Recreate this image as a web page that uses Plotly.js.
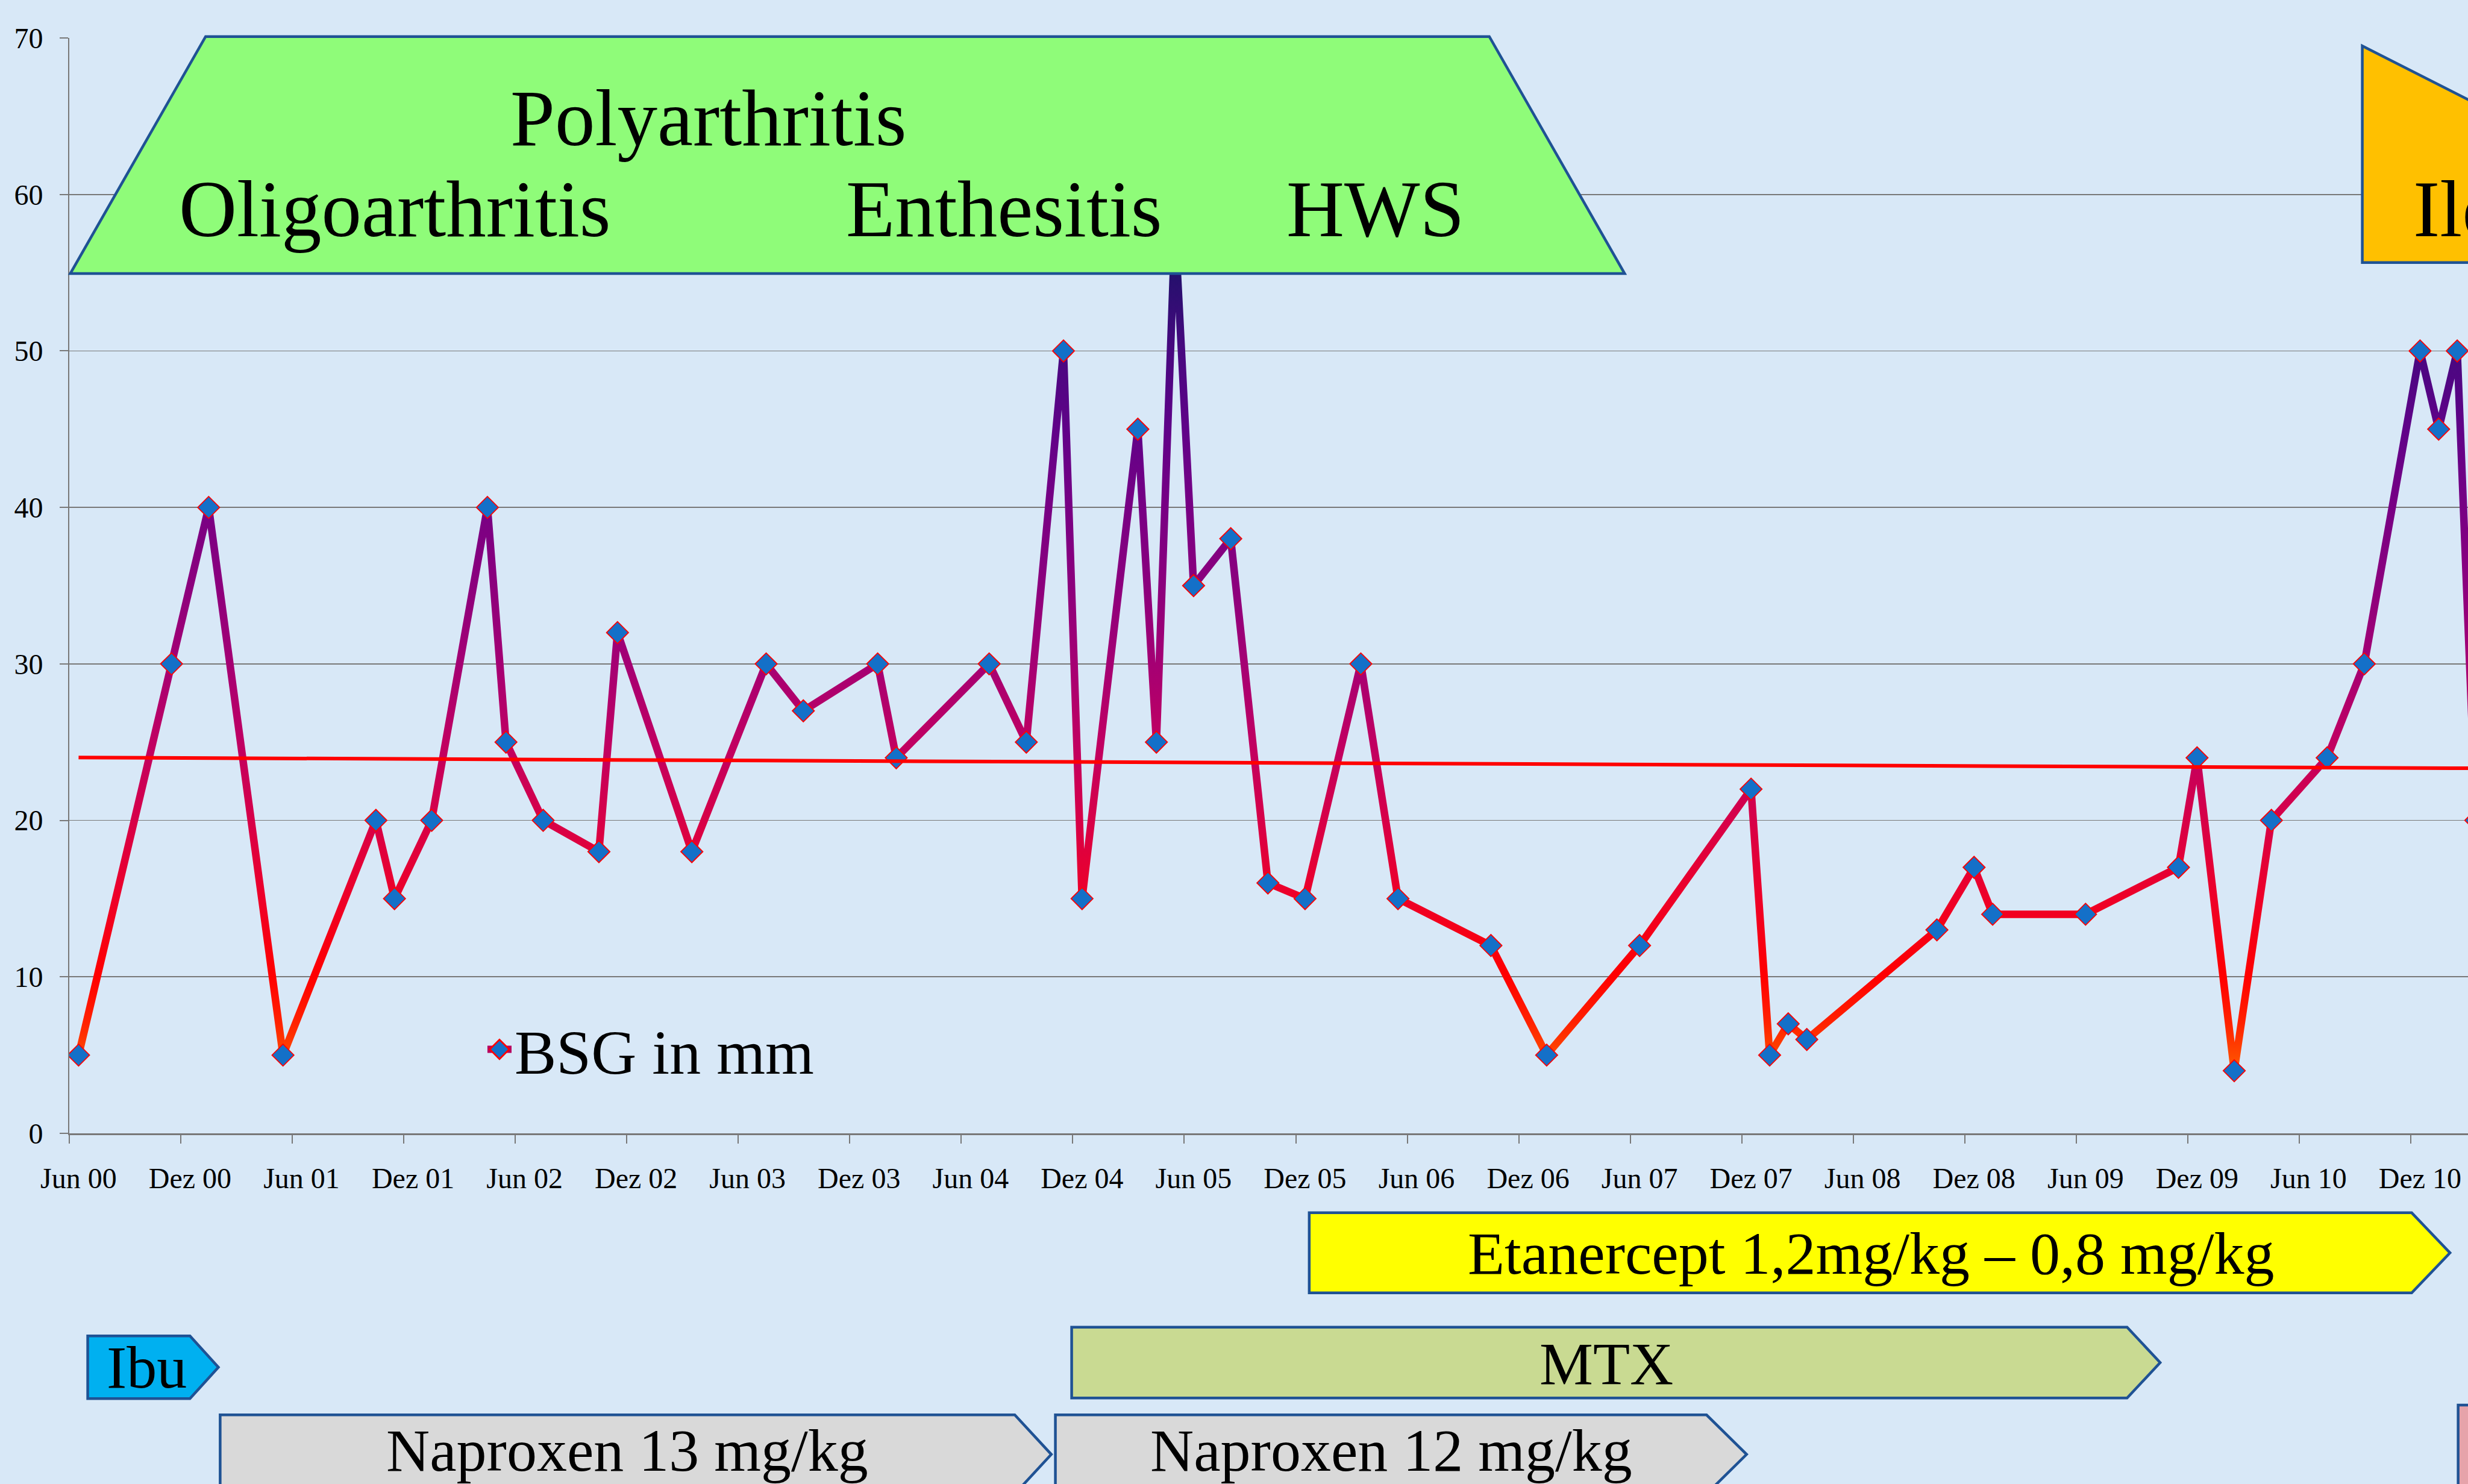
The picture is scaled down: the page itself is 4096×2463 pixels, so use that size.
<!DOCTYPE html>
<html>
<head>
<meta charset="utf-8">
<script src="https://cdn.plot.ly/plotly-3.0.1.min.js"></script>
<style>
html,body{margin:0;padding:0;background:#d8e8f7;overflow:hidden;}
#chart{width:4096px;height:2463px;}
</style>
</head>
<body>
<div id="chart"></div>
<script>
// ---------- data ----------
const dates = ['2000-06','2000-11','2001-01','2001-05','2001-10','2001-11','2002-01','2002-04','2002-05','2002-07',
  '2002-10','2002-11','2003-03','2003-07','2003-09','2004-01','2004-02','2004-07','2004-09','2004-11',
  '2004-12','2005-03','2005-04','2005-05','2005-06','2005-08','2005-10','2005-12','2006-03','2006-05',
  '2006-10','2007-01','2007-06','2007-12','2008-01','2008-02','2008-03','2008-10','2008-12','2009-01',
  '2009-06','2009-11','2009-12','2010-02','2010-04','2010-07','2010-09','2010-12','2011-01','2011-02','2011-03'];
const bsg = [5,30,40,5,20,15,20,40,25,20,
  18,32,18,30,27,30,24,30,25,50,
  15,45,25,58,35,38,16,15,30,15,
  12,5,12,22,5,7,6,13,17,14,
  14,17,24,4,20,24,30,50,45,50,20];
const seriesName = 'BSG in mm';
const trendDates = ['2000-06','2011-03'];
const trendValues = [24.02, 23.33];
const tickDates = ['2000-06','2000-12','2001-06','2001-12','2002-06','2002-12','2003-06','2003-12','2004-06','2004-12','2005-06',
  '2005-12','2006-06','2006-12','2007-06','2007-12','2008-06','2008-12','2009-06','2009-12','2010-06','2010-12'];
const tickLabels = ['Jun 00','Dez 00','Jun 01','Dez 01','Jun 02','Dez 02','Jun 03','Dez 03','Jun 04','Dez 04','Jun 05',
  'Dez 05','Jun 06','Dez 06','Jun 07','Dez 07','Jun 08','Dez 08','Jun 09','Dez 09','Jun 10','Dez 10'];
const yTicks = [0,10,20,30,40,50,60,70];

const phaseLabels = ['Polyarthritis','Oligoarthritis','Enthesitis','HWS','Ileitis'];
const therapyLabels = ['Etanercept 1,2mg/kg – 0,8 mg/kg','MTX','Ibu','Naproxen 13 mg/kg','Naproxen 12 mg/kg'];

// ---------- helpers ----------
function monthIndex(s){ const p = s.split('-').map(Number); return (p[0]-2000)*12 + (p[1]-6); }
const xs = dates.map(monthIndex);
const tickX = tickDates.map(monthIndex);
const boundaryX = tickX.map(v => v - 0.5).concat([tickX[tickX.length-1] + 5.5]);

const W = 4096, H = 2463, S = 0.964;
const M = {l:115, r:0, t:63, b:582};
const PW = W - M.l - M.r, PH = H - M.t - M.b;
function px(x){ return (x*S - M.l)/PW; }
function py(y){ return 1 - (y*S - M.t)/PH; }

const FONT = 'Liberation Serif, Times New Roman, serif';
const BORDER = '#1f5294';

function poly(pts, fill){
  return {type:'path', xref:'paper', yref:'paper', layer:'above',
    path: 'M' + pts.map(p => px(p[0]).toFixed(5) + ',' + py(p[1]).toFixed(5)).join('L') + 'Z',
    fillcolor: fill, line:{color: BORDER, width: 4.5}};
}
function label(text, x, y, size, anchor){
  return {xref:'paper', yref:'paper', x: px(x), y: py(y), text: text, showarrow:false,
    xanchor: anchor || 'center', yanchor:'middle', font:{family: FONT, size: size, color:'#000'}};
}

// ---------- decorations (positions in reference pixels) ----------
const shapes = [
  poly([[121,471],[354,63],[2564,63],[2797,471]], '#8ffc79'),
  poly([[4067,79],[4400,248],[4400,452],[4067,452]], '#ffc000'),
  poly([[2254,2088],[4152,2088],[4218,2157],[4152,2226],[2254,2226]], '#ffff00'),
  poly([[1845,2285],[3662,2285],[3719,2346],[3662,2407],[1845,2407]], '#c9da92'),
  poly([[151,2300],[327,2300],[376,2354],[327,2408],[151,2408]], '#00b0f0'),
  poly([[379,2436],[1747,2436],[1810,2504],[1747,2572],[379,2572]], '#d9d9d9'),
  poly([[1817,2436],[2938,2436],[3007,2504],[2938,2572],[1817,2572]], '#d9d9d9'),
  poly([[4232,2419],[4400,2419],[4400,2700],[4232,2700]], '#e6a3aa')
];
const annotations = [
  label(phaseLabels[0], 1220, 203, 133),
  label(phaseLabels[1], 680, 360, 133),
  label(phaseLabels[2], 1729, 360, 133),
  label(phaseLabels[3], 2368, 360, 133),
  label(phaseLabels[4], 4152, 360, 133, 'left'),
  label(therapyLabels[0], 3221, 2158, 100),
  label(therapyLabels[1], 2766, 2348, 100),
  label(therapyLabels[2], 253, 2354, 100),
  label(therapyLabels[3], 1080, 2497, 100),
  label(therapyLabels[4], 2395, 2497, 100)
];

// ---------- traces ----------
const bsgTrace = {
  type:'scatter', mode:'lines+markers', name: seriesName,
  x: xs, y: bsg,
  line:{color:'#b8005f', width:12.5},
  marker:{symbol:'diamond', size:28, color:'#1470c8', line:{color:'#ff0000', width:1.8}},
  hoverinfo:'skip'
};
const trendTrace = {
  type:'scatter', mode:'lines', showlegend:false,
  x: trendDates.map(monthIndex), y: trendValues,
  line:{color:'#ff0000', width:6}, hoverinfo:'skip'
};

const axisFont = {family: FONT, size: 48, color:'#000'};
const GRAY = '#787878';
const layout = {
  width: W, height: H, margin: M,
  paper_bgcolor:'#d8e8f7', plot_bgcolor:'#d8e8f7',
  showlegend: true,
  legend:{x: px(834), y: py(1807), xanchor:'left', yanchor:'middle', bgcolor:'rgba(0,0,0,0)',
    borderwidth:0, itemwidth:40, font:{family: FONT, size:104, color:'#000'}},
  xaxis:{range:[-0.5, 128.58], tickmode:'array', tickvals: tickX, ticktext: tickLabels,
    ticks:'', showline:true, linecolor: GRAY, linewidth:2.5, showgrid:false, zeroline:false,
    tickfont: axisFont, ticklabelstandoff: 31, automargin:false,
    minor:{tickmode:'array', tickvals: boundaryX, ticks:'outside', ticklen:14, tickwidth:2, tickcolor: GRAY, showgrid:false}},
  yaxis:{range:[0,70], tickmode:'array', tickvals: yTicks, ticks:'outside', ticklen:14, tickwidth:2, tickcolor: GRAY,
    showline:true, linecolor: GRAY, linewidth:2, showgrid:true, gridcolor: GRAY, gridwidth:1.8, zeroline:false,
    tickfont: axisFont, ticklabelstandoff: 18, automargin:false},
  shapes: shapes,
  annotations: annotations
};

// vertical colour gradient of the BSG line (value -> colour), like the original chart
const gradStops = [[0,'rgb(255,110,0)'],[4,'rgb(255,90,0)'],[7,'rgb(255,35,0)'],[10,'rgb(255,0,0)'],
  [15,'rgb(238,0,40)'],[20,'rgb(215,0,72)'],[25,'rgb(192,0,98)'],[30,'rgb(165,0,115)'],[35,'rgb(140,0,125)'],
  [40,'rgb(120,0,132)'],[45,'rgb(96,2,136)'],[50,'rgb(72,8,128)'],[55,'rgb(36,16,108)'],[60,'rgb(28,20,100)'],[70,'rgb(20,20,90)']];

function applyGradient(gd){
  const NS = 'http://www.w3.org/2000/svg';
  const svg = gd.querySelector('svg.main-svg');
  if(!svg) return;
  let defs = svg.querySelector('defs');
  if(!defs){ defs = document.createElementNS(NS,'defs'); svg.insertBefore(defs, svg.firstChild); }
  let g = document.getElementById('bsgGrad');
  if(!g){
    g = document.createElementNS(NS,'linearGradient');
    g.setAttribute('id','bsgGrad');
    g.setAttribute('gradientUnits','userSpaceOnUse');
    g.setAttribute('x1','0'); g.setAttribute('x2','0');
    g.setAttribute('y1', String(PH)); g.setAttribute('y2','0');
    gradStops.forEach(s => {
      const st = document.createElementNS(NS,'stop');
      st.setAttribute('offset', String(s[0]/70));
      st.setAttribute('stop-color', s[1]);
      g.appendChild(st);
    });
    defs.appendChild(g);
  }
  const traces = gd.querySelectorAll('.scatterlayer .trace');
  if(traces.length){
    traces[0].querySelectorAll('path.js-line').forEach(p => { p.style.stroke = 'url(#bsgGrad)'; });
  }
  // legend symbol sized like the original (short thick line with a diamond)
  gd.querySelectorAll('.legend .legendpoints path.scatterpts').forEach(p => {
    if(!p.dataset.scaled){
      const t = p.getAttribute('transform') || '';
      p.setAttribute('transform', t + ' scale(1.55)');
      p.dataset.scaled = '1';
    }
  });
  gd.querySelectorAll('.legend .legendlines path.js-line').forEach(p => { p.style.strokeWidth = '12px'; });
}

const gd = document.getElementById('chart');
Plotly.newPlot(gd, [bsgTrace, trendTrace], layout, {staticPlot:true, displayModeBar:false}).then(() => {
  applyGradient(gd);
  gd.on && gd.on('plotly_afterplot', () => applyGradient(gd));
});
</script>
</body>
</html>
